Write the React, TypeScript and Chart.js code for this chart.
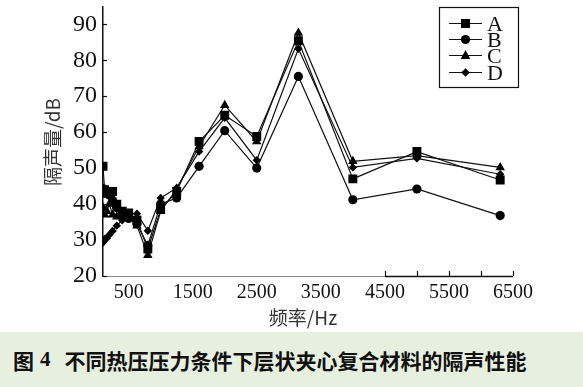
import React, { useEffect, useRef } from "react";
import { Chart, registerables } from "chart.js";

Chart.register(...registerables);

const frequencies = [100, 125, 160, 200, 250, 315, 400, 500, 630, 800, 1000, 1250, 1600, 2000, 2500, 3150, 4000, 5000, 6300];
const seriesA = [50.5, 44, 43, 43.5, 43.5, 40, 38, 37.5, 35.5, 27.5, 38.5, 43.5, 57.4, 64.7, 58.8, 85.4, 47, 54.6, 46.7];
const seriesB = [44.3, 43.5, 43, 42.5, 41, 39, 37, 36, 34.5, 28.5, 40, 41.7, 50.5, 60.4, 50, 75.5, 41.2, 44.2, 36.8];
const seriesC = [39, 37, 38, 40, 37, 36.5, 37, 36.8, 34, 25.8, 38, 44.2, 56, 67.5, 57.4, 87.6, 51.9, 53.5, 50.2];
const seriesD = [29.3, 30.3, 30.5, 31.5, 32.5, 34, 35.5, 37.5, 37.3, 32.6, 41.7, 44.5, 54.6, 64, 52.2, 83.2, 50.2, 52.7, 48.3];
const seriesNames = ["A", "B", "C", "D"];
const xTickLabels = [500, 1500, 2500, 3500, 4500, 5500, 6500];
const xTickMarks = [4500, 5000, 5500, 6000, 6500];
const yTickValues = [20, 30, 40, 50, 60, 70, 80, 90];

const markerStyles = ["rect", "circle", "triangle", "rectRot"];
const markerRadii = [6.3, 4.6, 5.5, 4.2];

function drawMarker(ctx: CanvasRenderingContext2D, style: string, x: number, y: number) {
  ctx.beginPath();
  if (style === "rect") {
    ctx.rect(x - 4.5, y - 4.5, 9, 9);
  } else if (style === "circle") {
    ctx.arc(x, y, 4.6, 0, Math.PI * 2);
  } else if (style === "triangle") {
    ctx.moveTo(x, y - 5.5);
    ctx.lineTo(x + 4.8, y + 3.5);
    ctx.lineTo(x - 4.8, y + 3.5);
    ctx.closePath();
  } else {
    ctx.moveTo(x, y - 4.3);
    ctx.lineTo(x + 4.3, y);
    ctx.lineTo(x, y + 4.3);
    ctx.lineTo(x - 4.3, y);
    ctx.closePath();
  }
  ctx.fill();
}

const decorPlugin = {
  id: "decor",
  afterDraw(chart: any) {
    const ctx: CanvasRenderingContext2D = chart.ctx;
    const xs = chart.scales.x;
    const ys = chart.scales.y;
    const area = chart.chartArea;
    ctx.save();
    const split = xs.getPixelForValue(4500);
    ctx.lineWidth = 1.2;
    ctx.strokeStyle = "#8a8a8a";
    ctx.beginPath();
    ctx.moveTo(area.left, area.bottom + 0.5);
    ctx.lineTo(split, area.bottom + 0.5);
    ctx.stroke();
    ctx.strokeStyle = "#111";
    ctx.lineWidth = 1.5;
    ctx.beginPath();
    ctx.moveTo(split, area.bottom + 0.5);
    ctx.lineTo(area.right, area.bottom + 0.5);
    ctx.stroke();
    ctx.lineWidth = 1.2;
    for (const v of xTickMarks) {
      const px = Math.round(xs.getPixelForValue(v)) + 0.5;
      ctx.beginPath();
      ctx.moveTo(px, area.bottom);
      ctx.lineTo(px, area.bottom - 5);
      ctx.stroke();
    }
    for (const v of yTickValues) {
      const py = Math.round(ys.getPixelForValue(v)) + 0.5;
      ctx.beginPath();
      ctx.moveTo(area.left, py);
      ctx.lineTo(area.left + 4, py);
      ctx.stroke();
    }
    ctx.fillStyle = "#333";
    ctx.font = "19px 'Noto Sans CJK SC', sans-serif";
    ctx.textAlign = "center";
    ctx.textBaseline = "middle";
    ctx.fillText("频率/Hz", 303, 318);
    ctx.save();
    ctx.translate(53, 142);
    ctx.rotate(-Math.PI / 2);
    ctx.fillText("隔声量/dB", 0, 0);
    ctx.restore();
    ctx.strokeStyle = "#111";
    ctx.lineWidth = 1.2;
    ctx.strokeRect(439.5, 7.5, 79, 80);
    const rows = [23, 39, 55, 72];
    ctx.font = "22px 'Liberation Serif', serif";
    ctx.textAlign = "left";
    rows.forEach((ry, i) => {
      ctx.strokeStyle = "#111";
      ctx.lineWidth = 1.2;
      ctx.beginPath();
      ctx.moveTo(449, ry + 0.5);
      ctx.lineTo(482, ry + 0.5);
      ctx.stroke();
      ctx.fillStyle = "#000";
      drawMarker(ctx, markerStyles[i], 465.5, ry + 0.5);
      ctx.fillStyle = "#111";
      ctx.fillText(seriesNames[i], 487, ry + 2);
    });
    ctx.restore();
  },
};

export default function App() {
  const canvasRef = useRef<HTMLCanvasElement | null>(null);
  useEffect(() => {
    document.body.style.margin = "0";
    const allSeries = [seriesA, seriesB, seriesC, seriesD];
    const chart = new Chart(canvasRef.current as HTMLCanvasElement, {
      type: "line",
      data: {
        datasets: allSeries.map((s, i) => ({
          label: seriesNames[i],
          data: frequencies.map((f, j) => ({ x: f, y: s[j] })),
          borderColor: "#111",
          backgroundColor: "#000",
          borderWidth: 1.2,
          pointStyle: markerStyles[i] as any,
          pointRadius: markerRadii[i],
          pointBorderWidth: 0,
          pointBackgroundColor: "#000",
          tension: 0,
        })),
      },
      options: {
        animation: false,
        responsive: false,
        maintainAspectRatio: false,
        layout: { padding: { left: 0, right: 70, top: 4, bottom: 0 } },
        plugins: { legend: { display: false }, tooltip: { enabled: false } },
        scales: {
          x: {
            type: "linear",
            min: 100,
            max: 6500,
            grid: { display: false, drawTicks: false },
            border: { display: false },
            afterBuildTicks: (scale: any) => {
              scale.ticks = xTickLabels.map((v) => ({ value: v }));
            },
            afterFit: (scale: any) => {
              scale.height = 56;
              scale.paddingLeft = 0;
              scale.paddingRight = 0;
            },
            ticks: {
              autoSkip: false,
              maxRotation: 0,
              padding: 5,
              color: "#111",
              font: { family: "'Liberation Serif', serif", size: 20 },
              callback: (v: any) => String(v),
            },
          },
          y: {
            min: 20,
            max: 95,
            grid: { display: false, drawTicks: false },
            border: { display: true, color: "#111", width: 1.5 },
            afterBuildTicks: (scale: any) => {
              scale.ticks = yTickValues.map((v) => ({ value: v }));
            },
            afterFit: (scale: any) => {
              scale.width = 103;
              scale.paddingTop = 0;
              scale.paddingBottom = 0;
            },
            ticks: {
              padding: 6,
              color: "#111",
              font: { family: "'Liberation Serif', serif", size: 24 },
            },
          },
        },
      },
      plugins: [decorPlugin],
    });
    return () => chart.destroy();
  }, []);

  return (
    <div style={{ width: 583, height: 387, background: "#fff", position: "relative" }}>
      <canvas ref={canvasRef} width={583} height={332} style={{ display: "block", width: 583, height: 332 }} />
      <div
        style={{
          height: 55,
          background: "#e7efdf",
          display: "flex",
          alignItems: "center",
          paddingLeft: 13,
          fontFamily: "'Noto Sans CJK SC', sans-serif",
          fontWeight: 700,
          fontSize: 21,
          color: "#111",
          whiteSpace: "nowrap",
        }}
      >
        <span>图</span>
        <span style={{ fontFamily: "'Liberation Serif', serif", marginLeft: 6 }}>4</span>
        <span style={{ marginLeft: 14 }}>不同热压压力条件下层状夹心复合材料的隔声性能</span>
      </div>
    </div>
  );
}
